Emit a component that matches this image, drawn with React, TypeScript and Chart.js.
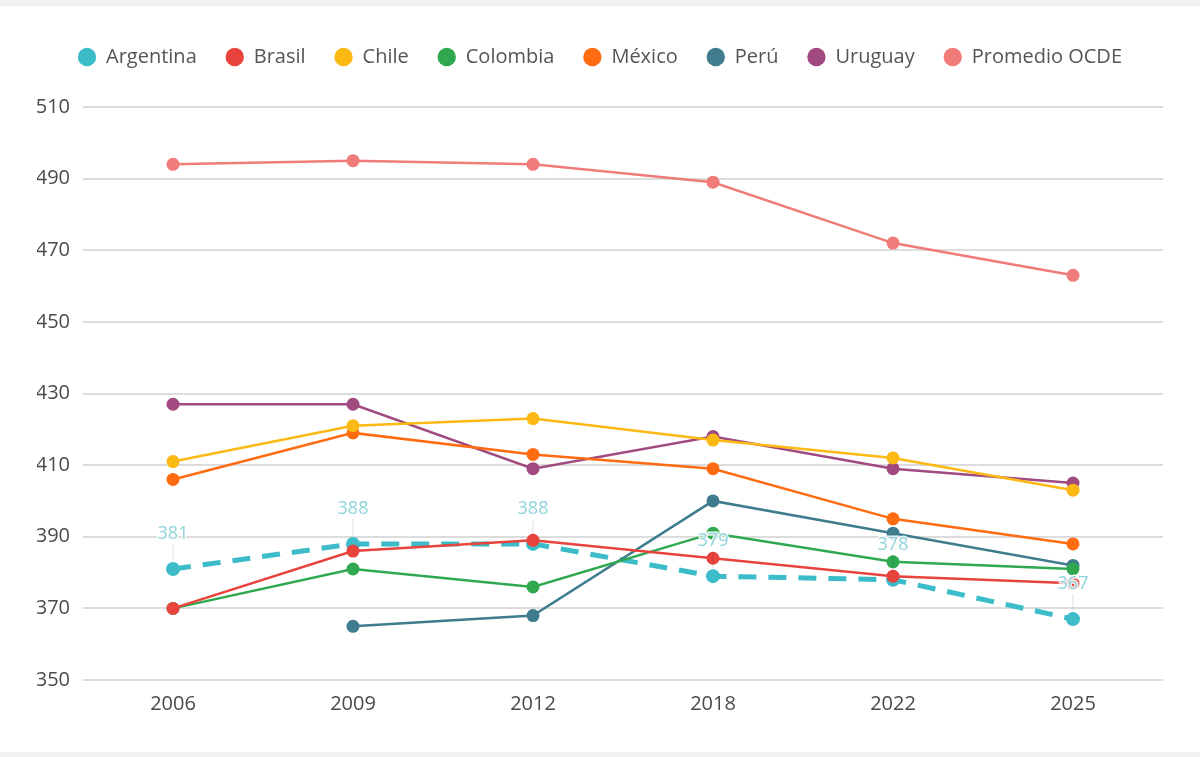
import { useEffect, useRef } from 'react';
import { Chart, registerables } from 'chart.js';

Chart.register(...registerables);

const years = ['2006', '2009', '2012', '2018', '2022', '2025'];

const argentina = [381, 388, 388, 379, 378, 367];
const brasil = [370, 386, 389, 384, 379, 377];
const chile = [411, 421, 423, 417, 412, 403];
const colombia = [370, 381, 376, 391, 383, 381];
const mexico = [406, 419, 413, 409, 395, 388];
const peru = [null, 365, 368, 400, 391, 382];
const uruguay = [427, 427, 409, 418, 409, 405];
const ocde = [494, 495, 494, 489, 472, 463];

const FONT = '"Open Sans", sans-serif';

// gray bands at top and bottom of the picture
const bandsPlugin = {
  id: 'bands',
  beforeDraw(chart: any) {
    const { ctx, width, height } = chart;
    ctx.save();
    ctx.fillStyle = '#ffffff';
    ctx.fillRect(0, 0, width, height);
    ctx.fillStyle = '#f2f2f2';
    ctx.fillRect(0, 0, width, 6);
    ctx.fillRect(0, height - 5, width, 5);
    ctx.restore();
  },
};

// pushes the plot area down below the legend
const legendSpacer = {
  id: 'legendSpacer',
  afterInit(chart: any) {
    const legend = chart.legend;
    if (!legend) return;
    const fit = legend.fit;
    legend.fit = function () {
      fit.call(this);
      this.height += 30;
    };
  },
};

// value labels above the Argentina points
const argLabels = {
  id: 'argLabels',
  afterDatasetsDraw(chart: any) {
    const meta = chart.getDatasetMeta(0);
    const { ctx } = chart;
    ctx.save();
    meta.data.forEach((pt: any, i: number) => {
      const v = argentina[i];
      if (v == null) return;
      const x = pt.x;
      const y = pt.y;
      ctx.strokeStyle = 'rgba(0,0,0,0.12)';
      ctx.lineWidth = 1;
      ctx.beginPath();
      ctx.moveTo(x, y - 8);
      ctx.lineTo(x, y - 25);
      ctx.stroke();
      ctx.font = `18px ${FONT}`;
      ctx.textAlign = 'center';
      ctx.textBaseline = 'middle';
      ctx.lineWidth = 3;
      ctx.strokeStyle = 'rgba(255,255,255,0.85)';
      ctx.strokeText(String(v), x, y - 35);
      ctx.fillStyle = '#8fd4dc';
      ctx.fillText(String(v), x, y - 35);
    });
    ctx.restore();
  },
};

function series(label: string, data: (number | null)[], color: string, extra: any = {}) {
  return {
    label,
    data,
    borderColor: color,
    backgroundColor: color,
    pointBackgroundColor: color,
    pointBorderColor: color,
    borderWidth: 2.5,
    pointRadius: 6.5,
    pointBorderWidth: 0,
    tension: 0,
    spanGaps: false,
    order: 0,
    ...extra,
  };
}

export default function App() {
  const canvasRef = useRef<HTMLCanvasElement | null>(null);

  useEffect(() => {
    document.body.style.margin = '0';
    if (!canvasRef.current) return;

    const chart = new Chart(canvasRef.current, {
      type: 'line',
      data: {
        labels: years,
        datasets: [
          series('Argentina', argentina, '#3bbcc8', {
            borderWidth: 5,
            borderDash: [18, 12],
            pointRadius: 7,
            order: 1,
          }),
          series('Brasil', brasil, '#e8433c'),
          series('Chile', chile, '#fdb913'),
          series('Colombia', colombia, '#2fa84f'),
          series('México', mexico, '#ff6b10'),
          series('Perú', peru, '#3f7d8e'),
          series('Uruguay', uruguay, '#a04a80'),
          series('Promedio OCDE', ocde, '#f07c7a'),
        ],
      },
      options: {
        animation: false,
        responsive: true,
        maintainAspectRatio: false,
        layout: { padding: { top: 18, right: 37, left: 37, bottom: 0 } },
        scales: {
          x: {
            offset: true,
            grid: { display: false, drawTicks: false },
            border: { display: false },
            ticks: {
              color: '#4a4a4a',
              padding: 12,
              font: { family: FONT, size: 20 },
            },
            afterFit: (scale: any) => {
              scale.height = 77;
            },
          },
          y: {
            min: 350,
            max: 510,
            grid: { color: '#dcdcdc', lineWidth: 2, drawTicks: false },
            border: { display: false },
            ticks: {
              stepSize: 20,
              color: '#4a4a4a',
              padding: 13,
              font: { family: FONT, size: 20 },
            },
            afterFit: (scale: any) => {
              scale.width = 46;
            },
          },
        },
        plugins: {
          legend: {
            display: true,
            position: 'top',
            labels: {
              usePointStyle: true,
              pointStyle: 'circle',
              boxWidth: 18,
              boxHeight: 13,
              padding: 29,
              color: '#555',
              font: { family: FONT, size: 20 },
              sort: (a: any, b: any) => a.datasetIndex - b.datasetIndex,
            },
          },
          tooltip: { enabled: false },
        },
      },
      plugins: [bandsPlugin, legendSpacer, argLabels],
    } as any);

    return () => {
      chart.destroy();
    };
  }, []);

  return (
    <div style={{ width: 1200, height: 757, position: 'relative' }}>
      <canvas ref={canvasRef} />
    </div>
  );
}
